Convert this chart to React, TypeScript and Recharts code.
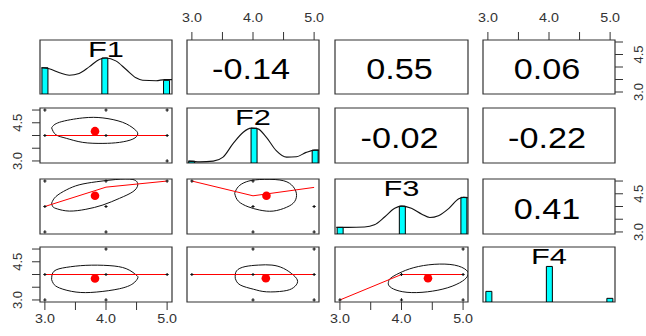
import React from 'react';
import { ComposedChart, XAxis, YAxis, Line, Scatter, Bar, ReferenceArea } from 'recharts';

// ---------------- data ----------------
const variables = ['F1', 'F2', 'F3', 'F4'];
const axisTicks = [3, 3.5, 4, 4.5, 5];
const xTickLabels = ['3.0', '4.0', '5.0'];
const yTickLabels = ['3.0', '4.5'];
// upper triangle, row by row: (1,2) (1,3) (1,4) (2,3) (2,4) (3,4)
const corrValues = ['-0.14', '0.55', '0.06', '-0.02', '-0.22', '0.41'];

// histograms (scaled so tallest bar ~ 1)
const hist1 = [{ x: 3.0, y: 0.73 }, { x: 3.98, y: 1.0 }, { x: 4.99, y: 0.38 }];
const hist2 = [{ x: 2.99, y: 0.05 }, { x: 4.01, y: 0.95 }, { x: 5.01, y: 0.35 }];
const hist3 = [{ x: 3.0, y: 0.18 }, { x: 4.01, y: 0.76 }, { x: 5.01, y: 1.0 }];
const hist4 = [{ x: 3.02, y: 0.29 }, { x: 4.01, y: 0.97 }, { x: 5.0, y: 0.1 }];

// density curves
const dens1 = [
  { x: 2.94, y: 0.73 }, { x: 3.07, y: 0.7 }, { x: 3.24, y: 0.59 }, { x: 3.4, y: 0.52 },
  { x: 3.56, y: 0.57 }, { x: 3.73, y: 0.76 }, { x: 3.89, y: 0.96 }, { x: 4.0, y: 1.0 },
  { x: 4.16, y: 0.92 }, { x: 4.33, y: 0.68 }, { x: 4.49, y: 0.45 }, { x: 4.6, y: 0.38 },
  { x: 4.82, y: 0.37 }, { x: 4.96, y: 0.4 }, { x: 5.08, y: 0.4 },
];
const dens2 = [
  { x: 2.94, y: 0.05 }, { x: 3.13, y: 0.03 }, { x: 3.35, y: 0.05 }, { x: 3.51, y: 0.16 },
  { x: 3.67, y: 0.52 }, { x: 3.84, y: 0.84 }, { x: 3.97, y: 0.95 }, { x: 4.08, y: 0.93 },
  { x: 4.22, y: 0.7 }, { x: 4.38, y: 0.34 }, { x: 4.55, y: 0.16 }, { x: 4.71, y: 0.17 },
  { x: 4.87, y: 0.29 }, { x: 5.01, y: 0.35 }, { x: 5.08, y: 0.35 },
];
const dens3 = [
  { x: 2.94, y: 0.18 }, { x: 3.13, y: 0.18 }, { x: 3.4, y: 0.19 }, { x: 3.56, y: 0.25 },
  { x: 3.73, y: 0.47 }, { x: 3.89, y: 0.7 }, { x: 4.0, y: 0.76 }, { x: 4.16, y: 0.7 },
  { x: 4.33, y: 0.54 }, { x: 4.46, y: 0.45 }, { x: 4.6, y: 0.5 }, { x: 4.77, y: 0.7 },
  { x: 4.93, y: 0.96 }, { x: 5.01, y: 1.0 }, { x: 5.08, y: 0.99 },
];

// scatter points (x = column variable, y = row variable)
const pts21 = [{ x: 3, y: 5 }, { x: 4, y: 5 }, { x: 5, y: 5 }, { x: 3, y: 4 }, { x: 4, y: 4 }, { x: 5, y: 4 }, { x: 5, y: 3 }];
const pts31 = [{ x: 3, y: 5 }, { x: 4, y: 5 }, { x: 5, y: 5 }, { x: 3, y: 4 }, { x: 4, y: 4 }, { x: 3, y: 3 }, { x: 4, y: 3 }];
const pts32 = [{ x: 3, y: 5 }, { x: 4, y: 5 }, { x: 4, y: 4 }, { x: 5, y: 4 }, { x: 4, y: 3 }, { x: 5, y: 3 }];
const pts41 = [{ x: 4, y: 5 }, { x: 3, y: 4 }, { x: 4, y: 4 }, { x: 5, y: 4 }, { x: 3, y: 3 }, { x: 4, y: 3 }];
const pts42 = [{ x: 4, y: 5 }, { x: 5, y: 5 }, { x: 3, y: 4 }, { x: 4, y: 4 }, { x: 5, y: 4 }, { x: 4, y: 3 }, { x: 5, y: 3 }];
const pts43 = [{ x: 5, y: 5 }, { x: 3, y: 3 }, { x: 4, y: 4 }, { x: 5, y: 4 }, { x: 4, y: 3 }, { x: 5, y: 3 }];

// means (red dots)
const mean21 = [{ x: 3.82, y: 4.17 }];
const mean31 = [{ x: 3.82, y: 4.42 }];
const mean32 = [{ x: 4.22, y: 4.42 }];
const mean41 = [{ x: 3.82, y: 3.84 }];
const mean42 = [{ x: 4.21, y: 3.85 }];
const mean43 = [{ x: 4.43, y: 3.85 }];

// lowess fits (red lines)
const low21 = [{ x: 3, y: 4.0 }, { x: 4, y: 4.0 }, { x: 5, y: 4.0 }];
const low31 = [{ x: 3, y: 4.0 }, { x: 4, y: 4.76 }, { x: 5, y: 5.0 }];
const low32 = [{ x: 3, y: 5.0 }, { x: 4, y: 4.42 }, { x: 5, y: 4.75 }];
const low41 = [{ x: 3, y: 4.0 }, { x: 4, y: 4.0 }, { x: 5, y: 4.0 }];
const low42 = [{ x: 3, y: 4.0 }, { x: 4, y: 4.0 }, { x: 5, y: 4.0 }];
const low43 = [{ x: 3, y: 3.0 }, { x: 4, y: 4.0 }, { x: 5, y: 4.0 }];

// correlation ellipses (traced outlines)
const ell21 = [
  { x: 3.11, y: 4.3 }, { x: 3.24, y: 4.52 }, { x: 3.62, y: 4.69 }, { x: 3.95, y: 4.69 }, { x: 4.27, y: 4.52 },
  { x: 4.46, y: 4.26 }, { x: 4.52, y: 4.06 }, { x: 4.44, y: 3.86 }, { x: 4.22, y: 3.73 }, { x: 3.95, y: 3.69 },
  { x: 3.62, y: 3.73 }, { x: 3.35, y: 3.89 }, { x: 3.18, y: 4.03 }, { x: 3.11, y: 4.3 },
];
const ell31 = [
  { x: 3.11, y: 4.13 }, { x: 3.18, y: 4.39 }, { x: 3.35, y: 4.65 }, { x: 3.56, y: 4.85 }, { x: 3.84, y: 4.97 },
  { x: 4.16, y: 5.06 }, { x: 4.44, y: 5.06 }, { x: 4.52, y: 4.85 }, { x: 4.44, y: 4.58 }, { x: 4.22, y: 4.32 },
  { x: 3.95, y: 4.06 }, { x: 3.67, y: 3.89 }, { x: 3.4, y: 3.82 }, { x: 3.21, y: 3.9 }, { x: 3.13, y: 3.99 },
  { x: 3.11, y: 4.13 },
];
const ell32 = [
  { x: 3.7, y: 4.52 }, { x: 3.76, y: 4.78 }, { x: 3.89, y: 4.97 }, { x: 4.11, y: 5.06 }, { x: 4.44, y: 5.04 },
  { x: 4.63, y: 4.85 }, { x: 4.71, y: 4.52 }, { x: 4.68, y: 4.19 }, { x: 4.55, y: 3.97 }, { x: 4.33, y: 3.82 },
  { x: 4.11, y: 3.86 }, { x: 3.92, y: 3.99 }, { x: 3.76, y: 4.21 }, { x: 3.7, y: 4.52 },
];
const ell41 = [
  { x: 3.11, y: 3.8 }, { x: 3.15, y: 4.13 }, { x: 3.35, y: 4.28 }, { x: 3.67, y: 4.36 }, { x: 4.05, y: 4.35 },
  { x: 4.33, y: 4.23 }, { x: 4.49, y: 3.99 }, { x: 4.52, y: 3.86 }, { x: 4.44, y: 3.64 }, { x: 4.22, y: 3.44 },
  { x: 3.84, y: 3.31 }, { x: 3.51, y: 3.31 }, { x: 3.24, y: 3.47 }, { x: 3.14, y: 3.64 }, { x: 3.11, y: 3.8 },
];
const ell42 = [
  { x: 3.71, y: 3.85 }, { x: 3.73, y: 4.14 }, { x: 3.87, y: 4.31 }, { x: 4.09, y: 4.37 }, { x: 4.31, y: 4.37 },
  { x: 4.5, y: 4.24 }, { x: 4.66, y: 3.98 }, { x: 4.73, y: 3.72 }, { x: 4.66, y: 3.48 }, { x: 4.5, y: 3.35 },
  { x: 4.22, y: 3.32 }, { x: 4.01, y: 3.42 }, { x: 3.79, y: 3.59 }, { x: 3.71, y: 3.85 },
];
const ell43 = [
  { x: 3.79, y: 3.72 }, { x: 3.82, y: 3.85 }, { x: 3.96, y: 4.05 }, { x: 4.2, y: 4.27 }, { x: 4.53, y: 4.4 },
  { x: 4.86, y: 4.37 }, { x: 5.05, y: 4.18 }, { x: 5.08, y: 3.98 }, { x: 4.99, y: 3.74 }, { x: 4.75, y: 3.48 },
  { x: 4.42, y: 3.32 }, { x: 4.09, y: 3.3 }, { x: 3.87, y: 3.43 }, { x: 3.79, y: 3.59 }, { x: 3.79, y: 3.72 },
];

// ---------------- layout & style ----------------
const FONT = '"Liberation Sans", Arial, Helvetica, sans-serif';
const INK = '#333333';
const XDOM: [number, number] = [2.92, 5.08];
const HDOM: [number, number] = [0, 1.5];
const colLefts = [40, 187, 335, 483];
const colWidths = [132, 132, 133, 132];
const rowTops = [40, 108, 179, 247];
const rowHeights = [54, 55, 55, 55];
const PAD = 32;

const labelFor = (v: number, labels: string[]) =>
  labels.find((l) => Math.abs(parseFloat(l) - v) < 1e-6) || '';

const makeXTick = (orient: 'top' | 'bottom') => (p: any) => {
  const label = labelFor(p.payload.value, xTickLabels);
  if (!label) return <g />;
  const base = orient === 'top' ? p.y : p.y + 9.3;
  return (
    <text transform={`translate(${p.x},${base}) scale(1.1,1)`} textAnchor="middle" fontSize={13} fontFamily={FONT} fill={INK}>
      {label}
    </text>
  );
};

const YTick = (p: any) => {
  const label = labelFor(p.payload.value, yTickLabels);
  if (!label) return <g />;
  return (
    <text transform={`translate(${p.x},${p.y}) rotate(-90)`} textAnchor="middle" fontSize={13} fontFamily={FONT} fill={INK}>
      {label}
    </text>
  );
};

const Cross = (p: any) =>
  p.cx == null ? <g /> : (
    <path d={`M${p.cx - 1.6},${p.cy}H${p.cx + 1.6}M${p.cx},${p.cy - 1.6}V${p.cy + 1.6}`} stroke="#111" strokeWidth={1.1} />
  );

const MeanDot = (p: any) => (p.cx == null ? <g /> : <circle cx={p.cx} cy={p.cy} r={4.3} fill="#ff0000" />);

const corrLabel = (text: string) => (p: any) => {
  const vb = p.viewBox || { x: 0, y: 0, width: 0, height: 0 };
  const cx = vb.x + vb.width / 2 - 2;
  const cy = vb.y + vb.height / 2 + 12;
  return (
    <text transform={`translate(${cx},${cy}) scale(1.14,1)`} textAnchor="middle" fontSize={30} fontFamily={FONT} fill="#000">
      {text}
    </text>
  );
};

const titleLabel = (text: string) => (p: any) => {
  const vb = p.viewBox || { x: 0, y: 0, width: 0, height: 0 };
  const cx = vb.x + vb.width / 2;
  const cy = vb.y + 16.8;
  return (
    <text transform={`translate(${cx},${cy}) scale(1.4,1)`} textAnchor="middle" fontSize={22} fontFamily={FONT} fill="#000">
      {text}
    </text>
  );
};

type PanelProps = {
  r: number; c: number; top?: boolean; bottom?: boolean; left?: boolean; right?: boolean;
  yDomain: [number, number]; data?: any[]; children?: React.ReactNode;
};

function Panel({ r, c, top, bottom, left, right, yDomain, data, children }: PanelProps) {
  const w = colWidths[c];
  const h = rowHeights[r];
  const showX = !!(top || bottom);
  const showY = !!(left || right);
  return (
    <div style={{ position: 'absolute', left: colLefts[c] - PAD, top: rowTops[r] - PAD, width: w + 2 * PAD, height: h + 2 * PAD }}>
      <ComposedChart
        width={w + 2 * PAD}
        height={h + 2 * PAD}
        data={data}
        margin={{ top: top ? 0 : PAD, bottom: bottom ? 0 : PAD, left: left ? 0 : PAD, right: right ? 0 : PAD }}
      >
        <XAxis
          dataKey="x" type="number" domain={XDOM} allowDataOverflow hide={!showX}
          orientation={top ? 'top' : 'bottom'} height={PAD} ticks={axisTicks} interval={0}
          tickSize={8} tickMargin={top ? 10 : 3.5} axisLine={false} tickLine={{ stroke: INK }}
          tick={makeXTick(top ? 'top' : 'bottom')}
        />
        <XAxis xAxisId="aux" dataKey="x" type="number" domain={XDOM} allowDataOverflow hide />
        <YAxis
          dataKey="y" type="number" domain={yDomain} allowDataOverflow hide={!showY}
          orientation={right ? 'right' : 'left'} width={PAD} ticks={axisTicks} interval={0}
          tickSize={8} tickMargin={right ? 19.5 : 10} axisLine={false} tickLine={{ stroke: INK }}
          tick={YTick}
        />
        {children}
      </ComposedChart>
    </div>
  );
}

const boxProps = { fill: 'none', fillOpacity: 0, stroke: INK, strokeWidth: 1.2, ifOverflow: 'visible' as const };

function DiagPanel({ i, hist, dens }: { i: number; hist: any[]; dens?: any[] }) {
  return (
    <Panel r={i} c={i} yDomain={HDOM} data={hist}>
      <Bar dataKey="y" barSize={6} fill="#00ffff" stroke="#000" strokeWidth={1} isAnimationActive={false} />
      {dens ? (
        <Line xAxisId="aux" data={dens} dataKey="y" type="monotone" stroke="#111" strokeWidth={1.1} dot={false} activeDot={false} isAnimationActive={false} />
      ) : null}
      <ReferenceArea x1={XDOM[0]} x2={XDOM[1]} y1={HDOM[0]} y2={HDOM[1]} {...boxProps} label={titleLabel(variables[i])} />
    </Panel>
  );
}

function CorrPanel({ r, c, value, top, right }: { r: number; c: number; value: string; top?: boolean; right?: boolean }) {
  return (
    <Panel r={r} c={c} top={top} right={right} yDomain={XDOM}>
      <ReferenceArea x1={XDOM[0]} x2={XDOM[1]} y1={XDOM[0]} y2={XDOM[1]} {...boxProps} label={corrLabel(value)} />
    </Panel>
  );
}

function ScatterPanel(props: { r: number; c: number; left?: boolean; bottom?: boolean; pts: any[]; ell: any[]; low: any[]; mean: any[] }) {
  const { r, c, left, bottom, pts, ell, low, mean } = props;
  return (
    <Panel r={r} c={c} left={left} bottom={bottom} yDomain={XDOM}>
      <ReferenceArea x1={XDOM[0]} x2={XDOM[1]} y1={XDOM[0]} y2={XDOM[1]} {...boxProps} />
      <Scatter data={pts} dataKey="y" shape={Cross} isAnimationActive={false} />
      <Line data={ell} dataKey="y" type="natural" stroke="#111" strokeWidth={1} dot={false} activeDot={false} isAnimationActive={false} />
      <Line data={low} dataKey="y" type="linear" stroke="#ff0000" strokeWidth={1} dot={false} activeDot={false} isAnimationActive={false} />
      <Scatter data={mean} dataKey="y" shape={MeanDot} isAnimationActive={false} />
    </Panel>
  );
}

export default function App() {
  return (
    <div style={{ position: 'absolute', left: 0, top: 0, width: 646, height: 336, background: '#ffffff', overflow: 'hidden', fontFamily: FONT }}>
      {/* diagonal */}
      <DiagPanel i={0} hist={hist1} dens={dens1} />
      <DiagPanel i={1} hist={hist2} dens={dens2} />
      <DiagPanel i={2} hist={hist3} dens={dens3} />
      <DiagPanel i={3} hist={hist4} />
      {/* upper triangle */}
      <CorrPanel r={0} c={1} value={corrValues[0]} top />
      <CorrPanel r={0} c={2} value={corrValues[1]} />
      <CorrPanel r={0} c={3} value={corrValues[2]} top right />
      <CorrPanel r={1} c={2} value={corrValues[3]} />
      <CorrPanel r={1} c={3} value={corrValues[4]} />
      <CorrPanel r={2} c={3} value={corrValues[5]} right />
      {/* lower triangle */}
      <ScatterPanel r={1} c={0} left pts={pts21} ell={ell21} low={low21} mean={mean21} />
      <ScatterPanel r={2} c={0} pts={pts31} ell={ell31} low={low31} mean={mean31} />
      <ScatterPanel r={2} c={1} pts={pts32} ell={ell32} low={low32} mean={mean32} />
      <ScatterPanel r={3} c={0} left bottom pts={pts41} ell={ell41} low={low41} mean={mean41} />
      <ScatterPanel r={3} c={1} pts={pts42} ell={ell42} low={low42} mean={mean42} />
      <ScatterPanel r={3} c={2} bottom pts={pts43} ell={ell43} low={low43} mean={mean43} />
    </div>
  );
}
